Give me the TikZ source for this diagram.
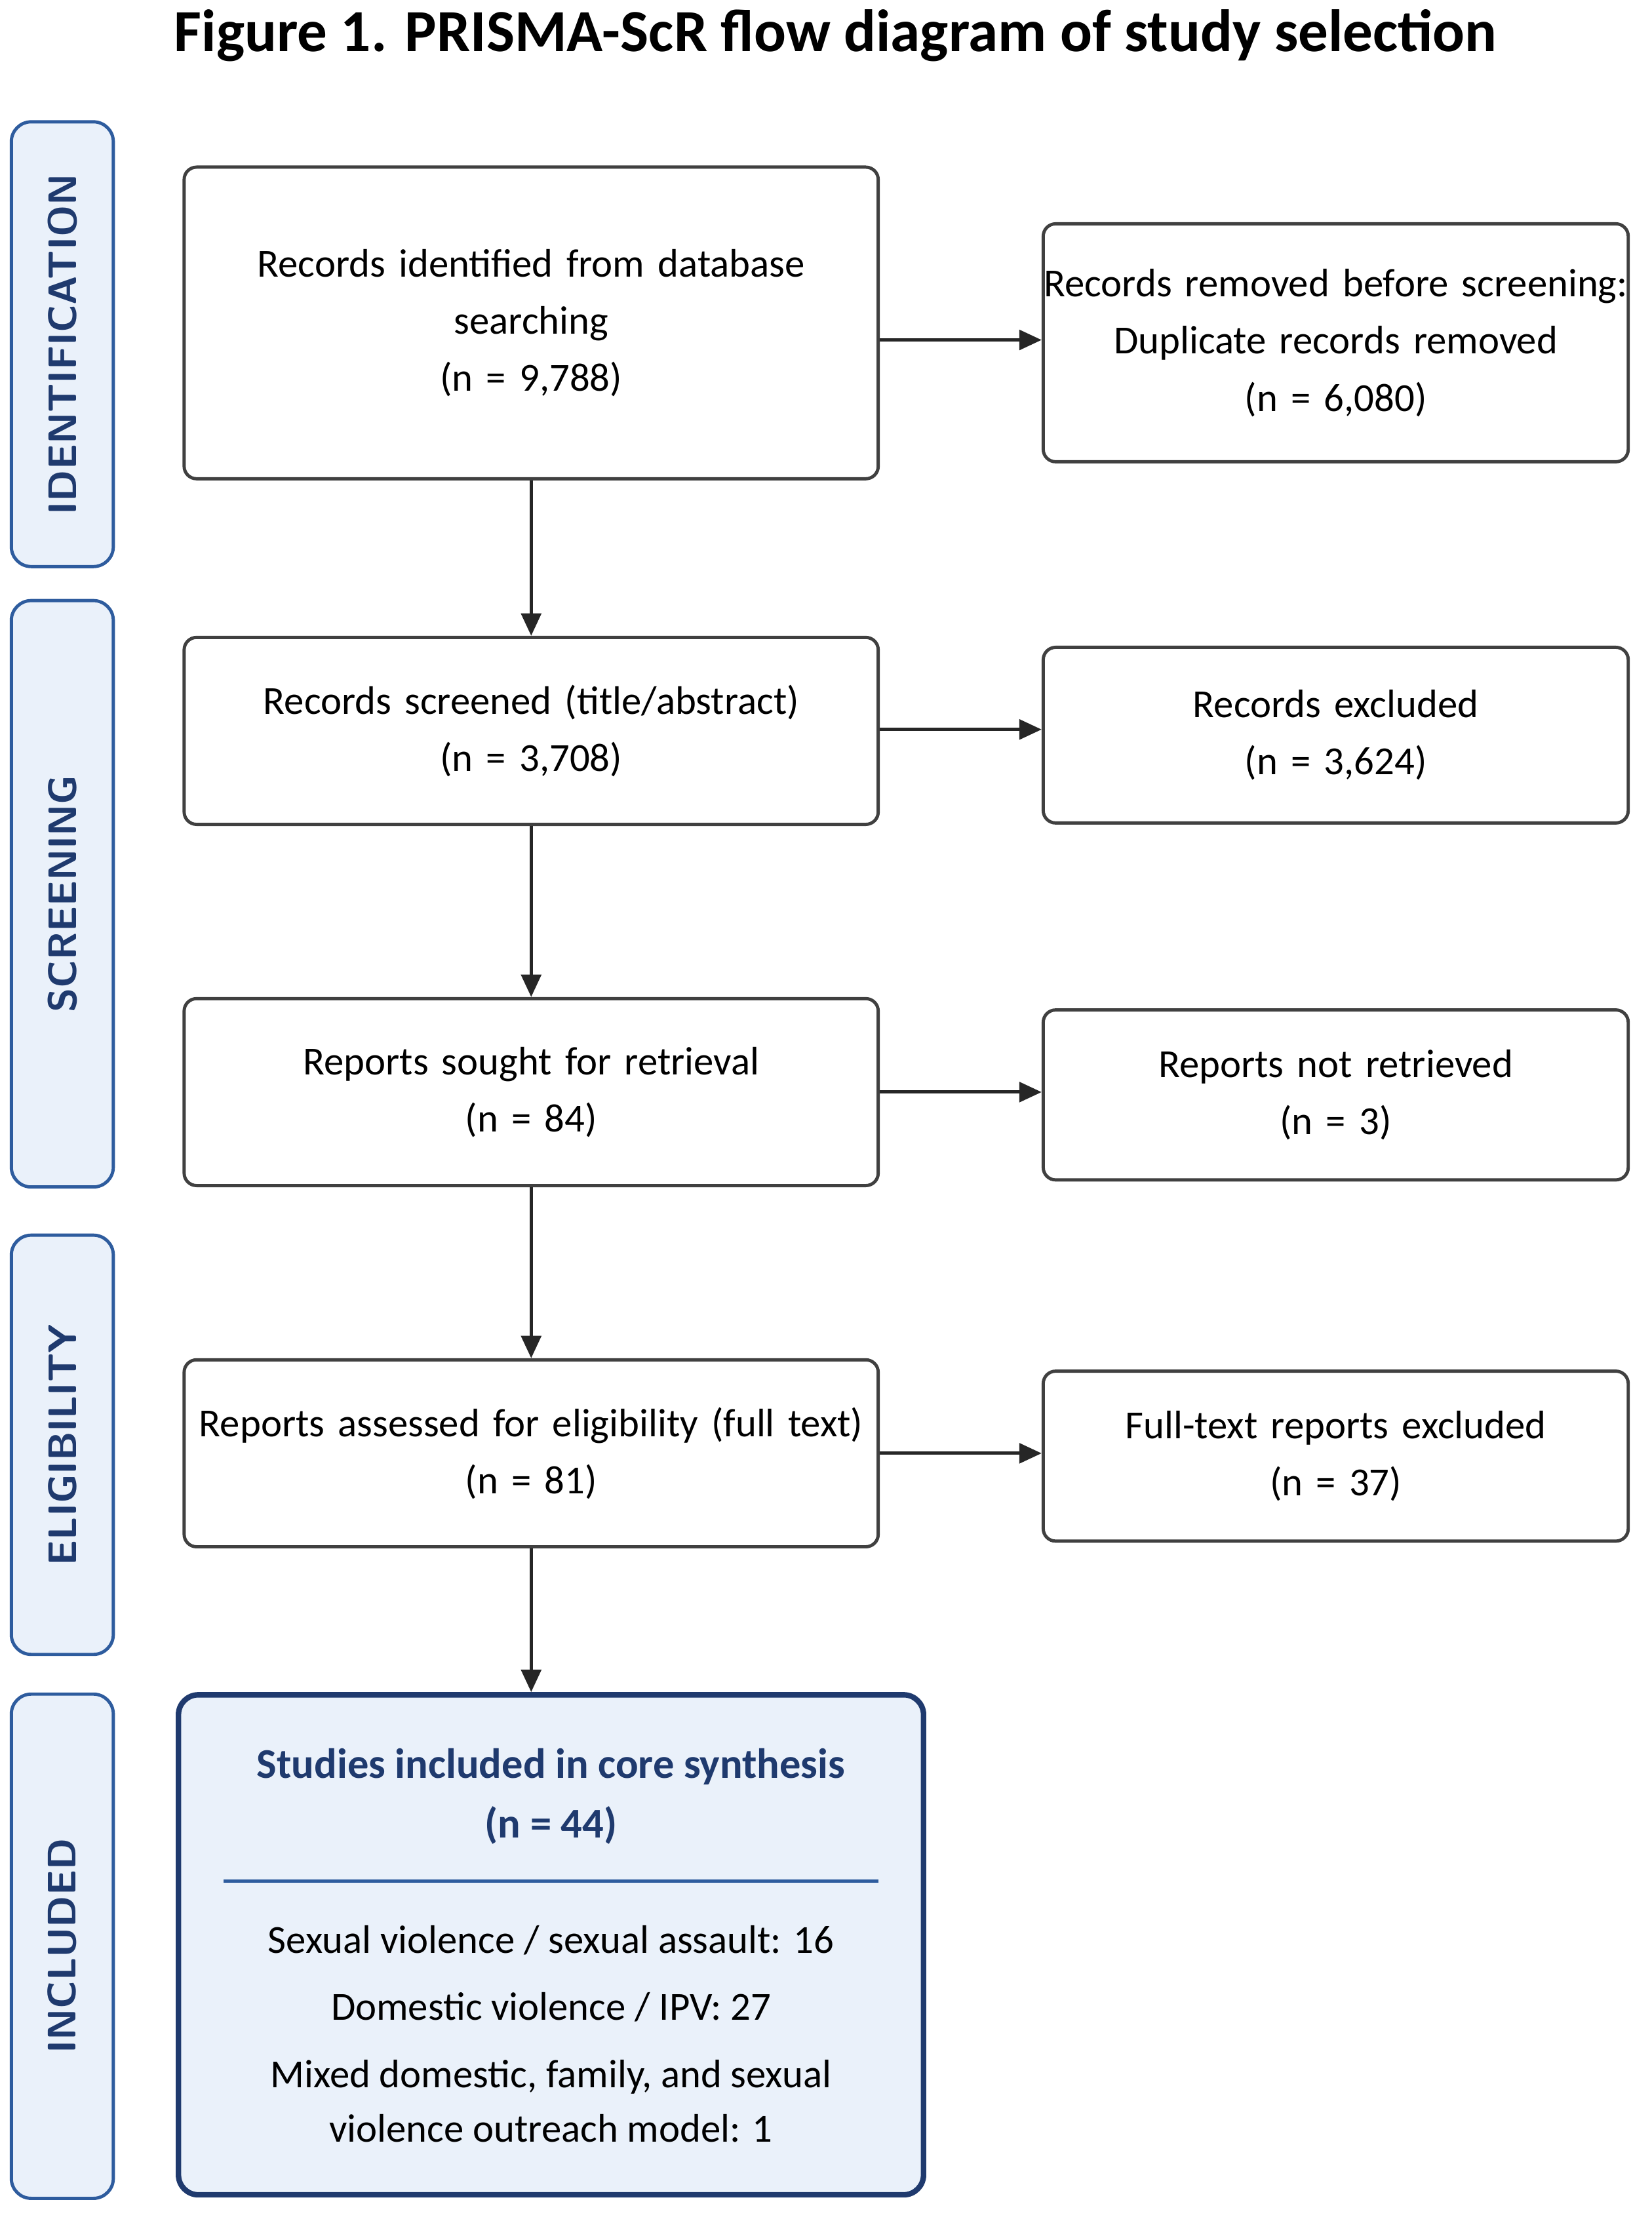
\documentclass[tikz,border=0pt]{standalone}
\usepackage{fontspec}
\setmainfont{Carlito}
\usetikzlibrary{positioning,arrows.meta}
\definecolor{navy}{HTML}{1F3A6E}
\definecolor{lblue}{HTML}{EAF1FA}
\definecolor{sideblue}{HTML}{2E5C9E}
\begin{document}
\begin{tikzpicture}[x=0.02cm,y=-0.02cm,
  box/.style={draw=black!75,line width=1.3pt,rounded corners=5pt,fill=white,align=center,font=\fontsize{16}{23}\selectfont,inner sep=0pt},
  side/.style={draw=sideblue,line width=1.3pt,rounded corners=8pt,fill=lblue,inner sep=0pt},
  sidetext/.style={rotate=90,font=\sffamily\bfseries\fontsize{16}{18}\selectfont,text=navy},
  arr/.style={-{Triangle[length=9pt,width=8pt]},line width=1.3pt,black!85}]
  \useasboundingbox[fill=white] (0,0) rectangle (1166,1568);
  \node (title) at (590,25) {\bfseries\fontsize{24}{28}\selectfont Figure 1. PRISMA-ScR flow diagram of study selection};
  % phase labels
  \foreach \name/\ya/\yb/\txt in {id/86/400/IDENTIFICATION, scr/424/838/SCREENING, eli/872/1168/ELIGIBILITY, inc/1196/1552/INCLUDED}{
    \draw[side] (8,\ya) rectangle (80,\yb);
    \node[sidetext] (\name) at (44,{(\ya+\yb)/2}) {\txt};
  }
  % main column
  \node[box,text width=490*0.02cm,minimum height=220*0.02cm] (rid) at (375,228) {Records identified from database\\searching\\(n = 9,788)};
  \node[box,text width=490*0.02cm,minimum height=132*0.02cm] (rscr) at (375,516) {Records screened (title/abstract)\\(n = 3,708)};
  \node[box,text width=490*0.02cm,minimum height=132*0.02cm] (rep) at (375,771) {Reports sought for retrieval\\(n = 84)};
  \node[box,text width=490*0.02cm,minimum height=132*0.02cm] (rass) at (375,1026) {Reports assessed for eligibility (full text)\\(n = 81)};
  % side column
  \node[box,text width=413*0.02cm,minimum height=168*0.02cm] (rrem) at (943,242) {Records removed before screening:\\Duplicate records removed\\(n = 6,080)};
  \node[box,text width=413*0.02cm,minimum height=124*0.02cm] (rexc) at (943,519) {Records excluded\\(n = 3,624)};
  \node[box,text width=413*0.02cm,minimum height=120*0.02cm] (rnot) at (943,773) {Reports not retrieved\\(n = 3)};
  \node[box,text width=413*0.02cm,minimum height=120*0.02cm] (fexc) at (943,1028) {Full-text reports excluded\\(n = 37)};
  % included
  \node[draw=navy,line width=2.2pt,rounded corners=8pt,fill=lblue,minimum width=526*0.02cm,minimum height=353*0.02cm,inner sep=0pt] (sinc) at (389,1373) {};
  \node[align=center,text=navy,font=\bfseries\fontsize{17}{24}\selectfont] (sinct) at (389,1268) {Studies included in core synthesis\\(n = 44)};
  \draw[sideblue,line width=1.3pt] (158,1328) -- (620,1328);
  \node[align=center,font=\fontsize{16}{27}\selectfont] (sincl) at (389,1436) {Sexual violence / sexual assault: 16\\Domestic violence / IPV: 27\\Mixed domestic, family, and sexual\\[-5pt]violence outreach model: 1};
  % arrows
  \draw[arr] (rid) -- (rscr);
  \draw[arr] (rscr) -- (rep);
  \draw[arr] (rep) -- (rass);
  \draw[arr] (rass.south) -- (rass.south |- sinc.north);
  \draw[arr] (rid.east |- 0,240) -- (rrem.west |- 0,240);
  \draw[arr] (rscr.east |- 0,515) -- (rexc.west |- 0,515);
  \draw[arr] (rep) -- (rnot.west |- rep);
  \draw[arr] (rass) -- (fexc.west |- rass);
\end{tikzpicture}
\end{document}
